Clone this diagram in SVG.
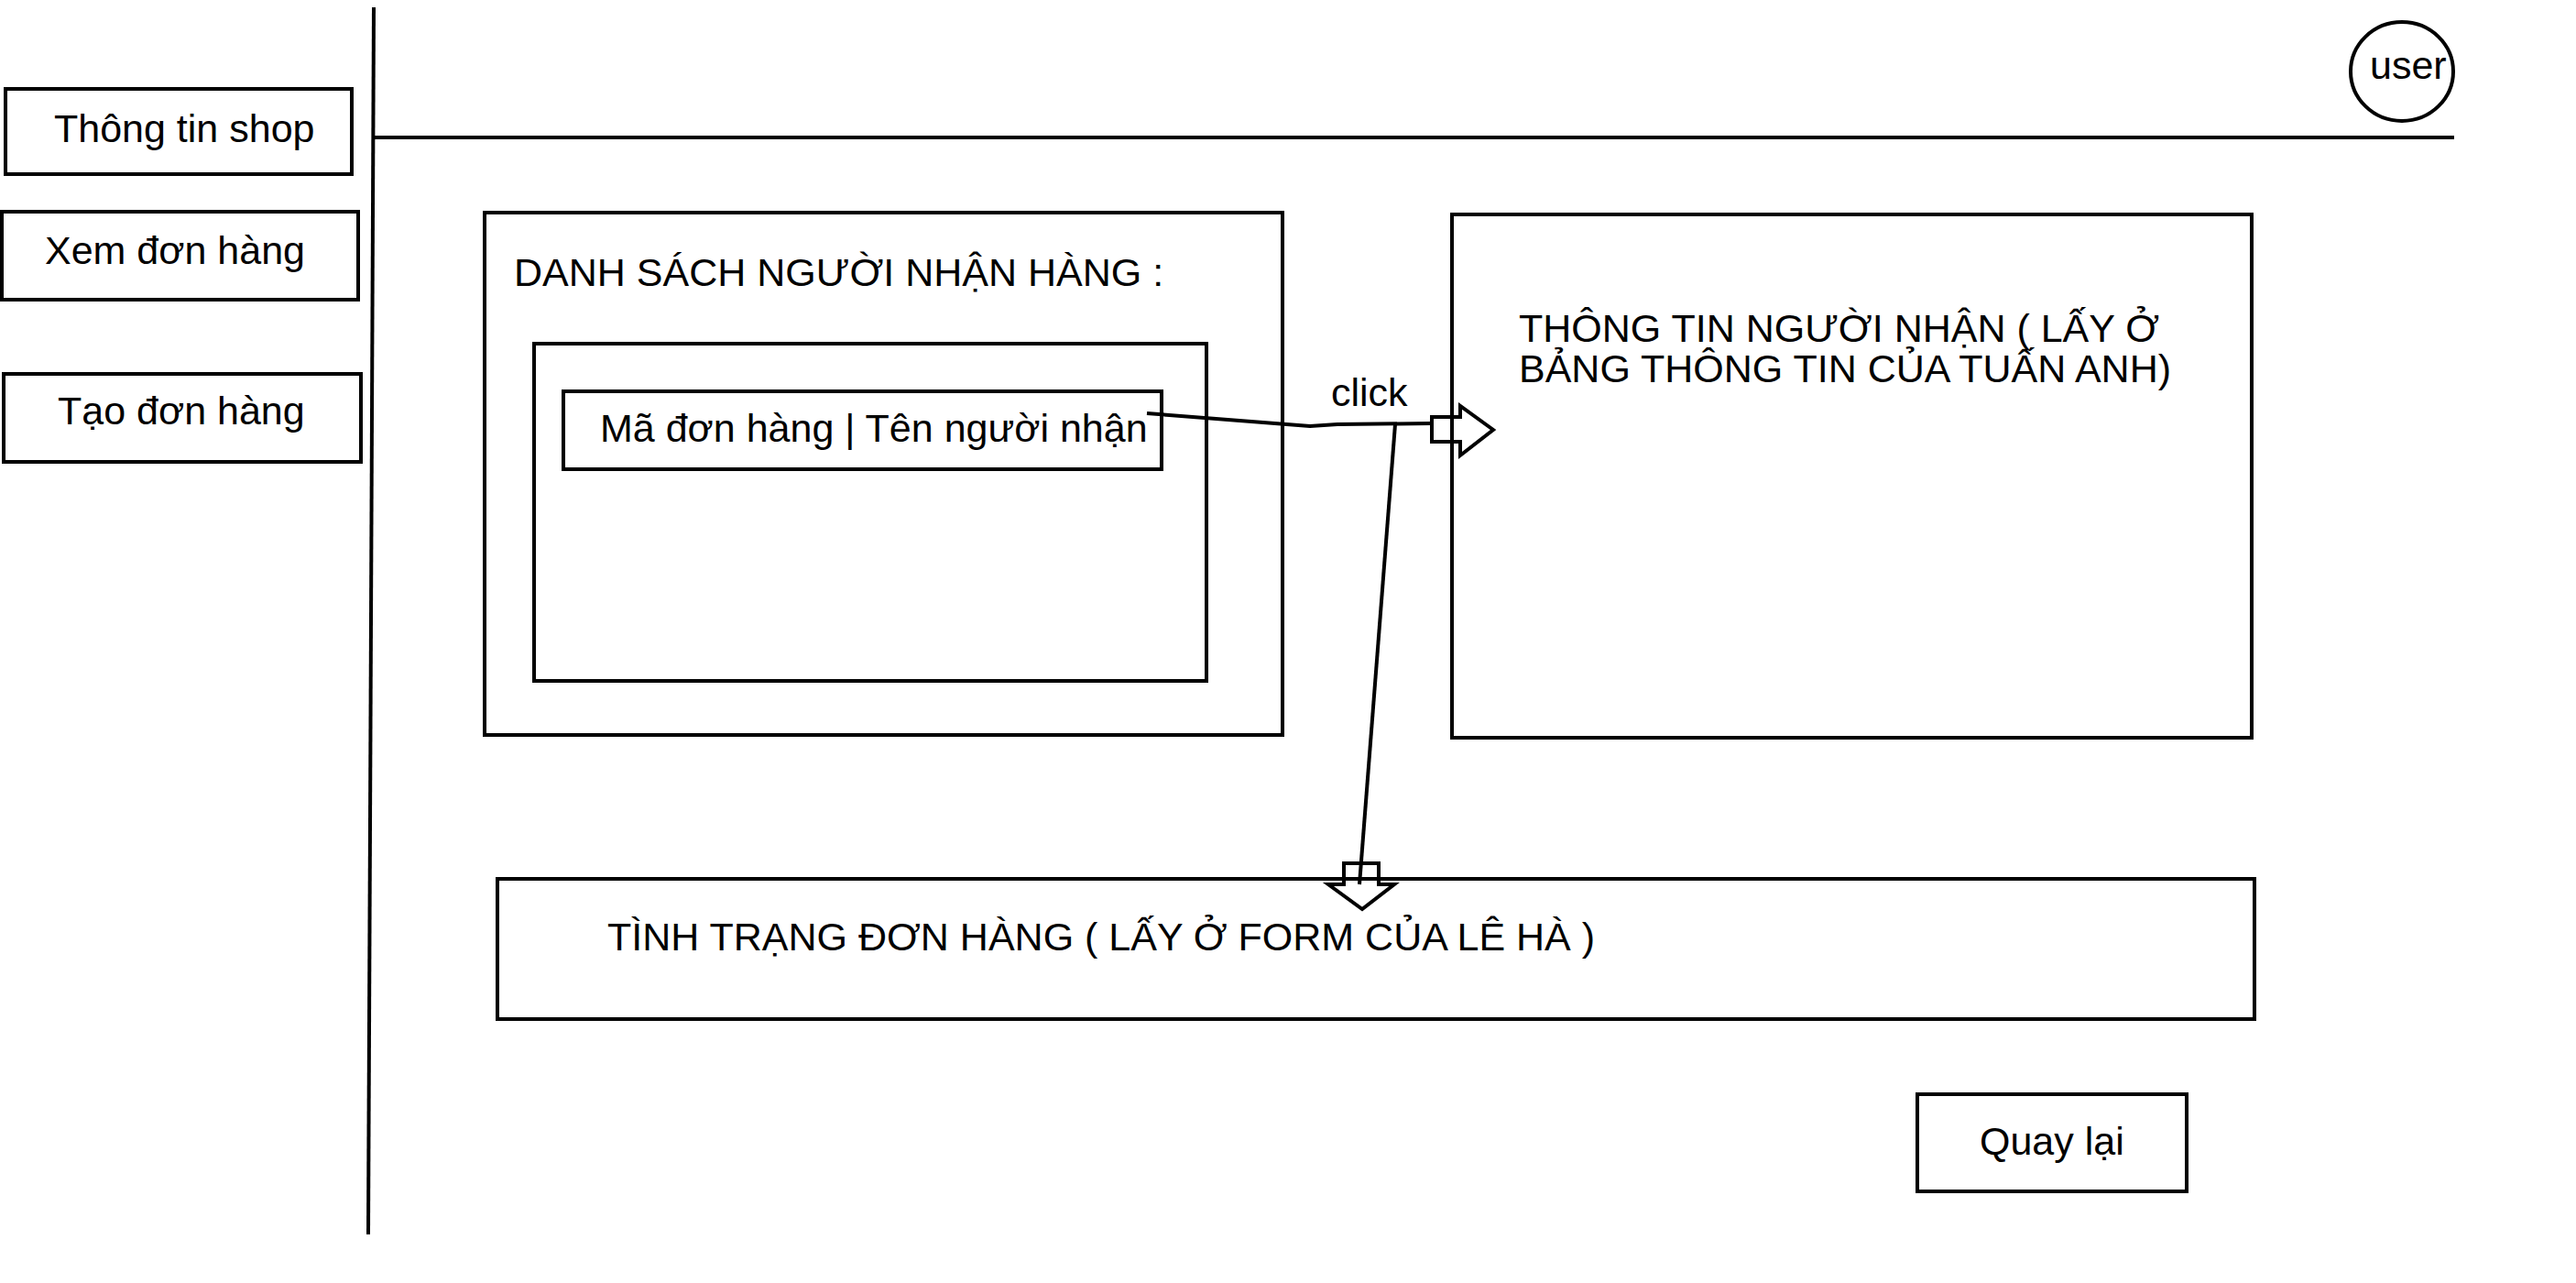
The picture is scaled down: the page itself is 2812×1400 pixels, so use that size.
<svg xmlns="http://www.w3.org/2000/svg" width="2812" height="1400" viewBox="0 0 2812 1400">
<style>
.box{fill:none;stroke:#000;stroke-width:4}
.t{font-family:"Liberation Sans",Arial,sans-serif;font-size:43px;fill:#000}
.ln{fill:none;stroke:#000;stroke-width:4}
.arr{fill:none;stroke:#000;stroke-width:4;stroke-linejoin:miter}
</style>
<rect width="2812" height="1400" fill="#fff"/>
<g id="layout">
<line class="ln" x1="408" y1="8" x2="402" y2="1347"/>
<line class="ln" x1="408" y1="150" x2="2679" y2="150"/>
</g>
<g id="user">
<ellipse class="box" cx="2622" cy="78" rx="56" ry="54"/>
<text class="t" x="2587" y="86">user</text>
</g>
<g id="menu-shop">
<rect class="box" x="6" y="97" width="378" height="93"/>
<text class="t" x="59" y="155">Thông tin shop</text>
</g>
<g id="menu-xem">
<rect class="box" x="2" y="231" width="389" height="96"/>
<text class="t" x="49" y="288">Xem đơn hàng</text>
</g>
<g id="menu-tao">
<rect class="box" x="4" y="408" width="390" height="96"/>
<text class="t" x="63" y="463">Tạo đơn hàng</text>
</g>
<g id="danh-sach">
<rect class="box" x="529" y="232" width="871" height="570"/>
<text class="t" x="561" y="312">DANH SÁCH NGƯỜI NHẬN HÀNG :</text>
</g>
<g id="list">
<rect class="box" x="583" y="375" width="734" height="368"/>
</g>
<g id="item">
<rect class="box" x="615" y="427" width="653" height="85"/>
<text class="t" x="655" y="482">Mã đơn hàng | Tên người nhận</text>
</g>
<g id="thong-tin">
<rect class="box" x="1585" y="234" width="873" height="571"/>
<text class="t" x="1658" y="373">THÔNG TIN NGƯỜI NHẬN ( LẤY Ở</text>
<text class="t" x="1658" y="417">BẢNG THÔNG TIN CỦA TUẤN ANH)</text>
</g>
<g id="tinh-trang">
<rect class="box" x="543" y="959" width="1918" height="153"/>
<text class="t" x="663" y="1037">TÌNH TRẠNG ĐƠN HÀNG ( LẤY Ở FORM CỦA LÊ HÀ )</text>
</g>
<g id="quay-lai">
<rect class="box" x="2093" y="1194" width="294" height="106"/>
<text class="t" x="2161" y="1260">Quay lại</text>
</g>
<g id="connectors">
<path class="ln" d="M1252,451 L1430,465 Q1445,464 1460,463 L1563,462"/>
<line class="ln" x1="1523" y1="463" x2="1484" y2="965" stroke-width="3"/>
<polygon class="arr" points="1563,455 1594,455 1594,443 1630,469 1594,497 1594,482 1563,482"/>
<polygon class="arr" points="1467,942 1505,942 1505,965 1522,965 1487,992 1450,965 1467,965"/>
<text class="t" x="1453" y="443">click</text>
</g>
</svg>
